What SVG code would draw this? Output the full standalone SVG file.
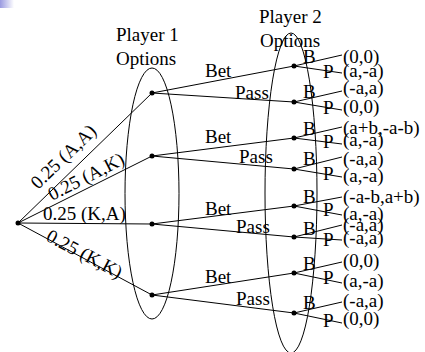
<svg xmlns="http://www.w3.org/2000/svg" width="425" height="352" viewBox="0 0 425 352">
<defs>
<linearGradient id="corner" x1="0" y1="0" x2="1" y2="0">
<stop offset="0" stop-color="#9a9ae0"/>
<stop offset="1" stop-color="#ffffff"/>
</linearGradient>
</defs>
<style>
text{font-family:"Liberation Serif","Times New Roman",serif;font-size:19px;fill:#000}
.e{fill:none;stroke:#000;stroke-width:1}
.c line{stroke:#000;stroke-width:1}
.n{fill:#000}
</style>
<rect x="0" y="0" width="14" height="8" fill="url(#corner)"/>
<g id="player1-options">
<ellipse class="e" cx="152" cy="193.5" rx="27" ry="125.5"/>
<text x="116" y="41">Player 1</text>
<text x="116" y="65">Options</text>
</g>
<g id="player2-options">
<ellipse class="e" cx="291" cy="193" rx="26" ry="160"/>
<text x="259" y="23">Player 2</text>
<text x="260" y="47">Options</text>
</g>
<g id="connectors" class="c">
<line x1="18" y1="223" x2="152" y2="93"/>
<line x1="18" y1="223" x2="152" y2="156"/>
<line x1="18" y1="223" x2="152" y2="224"/>
<line x1="18" y1="223" x2="152" y2="295"/>
<line x1="152" y1="93" x2="294" y2="66"/>
<line x1="152" y1="93" x2="294" y2="102"/>
<line x1="152" y1="156" x2="294" y2="138"/>
<line x1="152" y1="156" x2="294" y2="169"/>
<line x1="152" y1="224" x2="294" y2="206"/>
<line x1="152" y1="224" x2="294" y2="237"/>
<line x1="152" y1="295" x2="294" y2="273"/>
<line x1="152" y1="295" x2="294" y2="313"/>
<line x1="294" y1="66" x2="342" y2="55"/>
<line x1="294" y1="66" x2="342" y2="73"/>
<line x1="294" y1="102" x2="342" y2="91"/>
<line x1="294" y1="102" x2="342" y2="110"/>
<line x1="294" y1="138" x2="342" y2="127"/>
<line x1="294" y1="138" x2="342" y2="144"/>
<line x1="294" y1="169" x2="342" y2="157"/>
<line x1="294" y1="169" x2="342" y2="177"/>
<line x1="294" y1="206" x2="342" y2="197"/>
<line x1="294" y1="206" x2="342" y2="215"/>
<line x1="294" y1="237" x2="342" y2="225"/>
<line x1="294" y1="237" x2="342" y2="240"/>
<line x1="294" y1="273" x2="342" y2="262"/>
<line x1="294" y1="273" x2="342" y2="283"/>
<line x1="294" y1="313" x2="342" y2="302"/>
<line x1="294" y1="313" x2="342" y2="323"/>
</g>
<g id="chance-labels">
<text transform="translate(38,190) rotate(-44)">0.25 (A,A)</text>
<text transform="translate(52,201) rotate(-27)">0.25 (A,K)</text>
<text x="43" y="220">0.25 (K,A)</text>
<text transform="translate(45,240) rotate(28)">0.25 (K,K)</text>
</g>
<g id="root"><circle class="n" cx="18" cy="223" r="2.5"/></g>
<g id="p1-node-AA"><circle class="n" cx="152" cy="93" r="2.5"/><text x="205" y="77">Bet</text><text x="235" y="99">Pass</text></g>
<g id="p1-node-AK"><circle class="n" cx="152" cy="156" r="2.5"/><text x="205" y="143">Bet</text><text x="239" y="163">Pass</text></g>
<g id="p1-node-KA"><circle class="n" cx="152" cy="224" r="2.5"/><text x="205" y="215">Bet</text><text x="236" y="233">Pass</text></g>
<g id="p1-node-KK"><circle class="n" cx="152" cy="295" r="2.5"/><text x="205" y="283">Bet</text><text x="236" y="305">Pass</text></g>
<g id="p2-node-1"><circle class="n" cx="294" cy="66" r="2.5"/><text x="303" y="63">B</text><text x="323" y="78">P</text><text x="343" y="63">(0,0)</text><text x="343" y="77">(a,-a)</text></g>
<g id="p2-node-2"><circle class="n" cx="294" cy="102" r="2.5"/><text x="303" y="98">B</text><text x="323" y="114">P</text><text x="343" y="94">(-a,a)</text><text x="343" y="113">(0,0)</text></g>
<g id="p2-node-3"><circle class="n" cx="294" cy="138" r="2.5"/><text x="303" y="135">B</text><text x="323" y="148">P</text><text x="343" y="134">(a+b,-a-b)</text><text x="343" y="146">(a,-a)</text></g>
<g id="p2-node-4"><circle class="n" cx="294" cy="169" r="2.5"/><text x="303" y="165">B</text><text x="323" y="180">P</text><text x="343" y="165">(-a,a)</text><text x="343" y="182">(a,-a)</text></g>
<g id="p2-node-5"><circle class="n" cx="294" cy="206" r="2.5"/><text x="303" y="203">B</text><text x="323" y="216">P</text><text x="343" y="203">(-a-b,a+b)</text><text x="343" y="220">(a,-a)</text></g>
<g id="p2-node-6"><circle class="n" cx="294" cy="237" r="2.5"/><text x="303" y="235">B</text><text x="323" y="246">P</text><text x="343" y="231">(-a,a)</text><text x="343" y="244">(-a,a)</text></g>
<g id="p2-node-7"><circle class="n" cx="294" cy="273" r="2.5"/><text x="303" y="270">B</text><text x="323" y="284">P</text><text x="343" y="267">(0,0)</text><text x="343" y="287">(a,-a)</text></g>
<g id="p2-node-8"><circle class="n" cx="294" cy="313" r="2.5"/><text x="303" y="309">B</text><text x="323" y="327">P</text><text x="343" y="307">(-a,a)</text><text x="343" y="325">(0,0)</text></g>
</svg>
